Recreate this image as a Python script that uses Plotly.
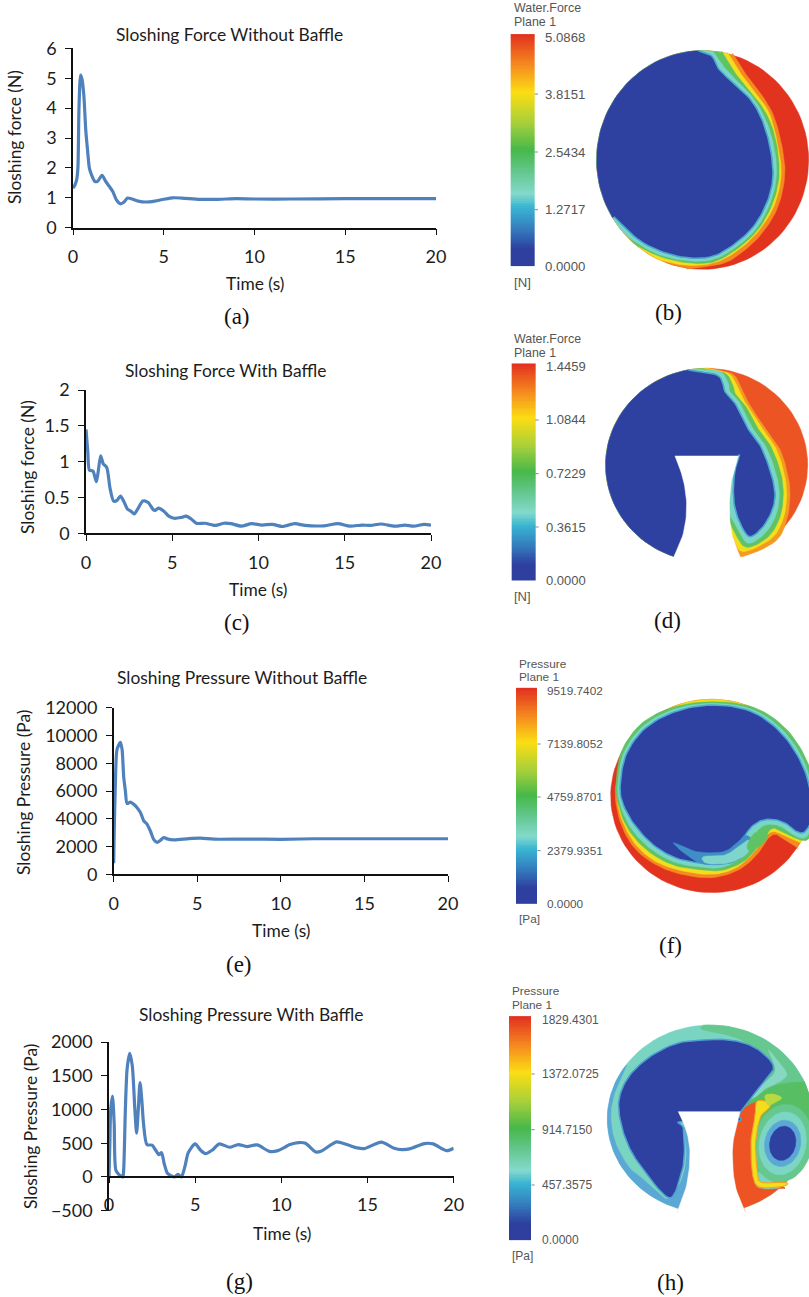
import math
import numpy as np
import plotly.graph_objects as go

W, H = 809, 1297

# ---------- line chart data ----------
t_a = [0,0.1,0.2,0.27,0.33,0.42,0.5,0.6,0.7,0.8,0.9,1.0,1.2,1.35,1.6,1.8,2.0,2.2,2.4,2.6,2.8,3.0,3.2,3.6,4.0,4.5,5,5.5,6,7,8,9,10,12,15,20]
force_a = [1.32,1.42,1.6,2.0,4.0,5.1,4.95,4.4,3.3,2.6,2.0,1.8,1.55,1.55,1.75,1.55,1.38,1.2,0.92,0.8,0.85,0.99,0.97,0.89,0.86,0.89,0.95,1.0,0.99,0.95,0.95,0.97,0.96,0.96,0.97,0.97]
t_c = [0,0.1,0.2,0.4,0.6,0.7,0.85,1.0,1.2,1.4,1.6,1.8,2.0,2.2,2.4,2.6,2.8,3.0,3.3,3.6,3.9,4.0,4.2,4.5,4.8,5.1,5.5,5.8,6.1,6.4,6.9,7.5,8,8.4,9,9.6,10.2,10.8,11.4,12.1,12.7,13.8,14.6,15.3,16,16.5,17.1,17.9,18.5,19,19.6,20]
force_c = [1.45,1.15,0.88,0.87,0.72,0.85,1.08,0.97,0.92,0.62,0.45,0.46,0.52,0.44,0.34,0.31,0.27,0.34,0.45,0.43,0.33,0.32,0.35,0.31,0.24,0.21,0.22,0.24,0.2,0.14,0.14,0.11,0.14,0.135,0.1,0.135,0.115,0.125,0.095,0.135,0.11,0.105,0.135,0.1,0.115,0.11,0.13,0.1,0.115,0.1,0.125,0.115]
t_e = [0,0.03,0.1,0.2,0.4,0.5,0.6,0.7,0.8,1.0,1.2,1.4,1.6,1.8,2.0,2.2,2.4,2.6,2.8,3.0,3.2,3.6,4.5,5.2,6,8,10,12,20]
pressure_e = [800,3000,6500,9000,9500,9000,7000,6000,5100,5200,5050,4800,4450,3850,3600,3100,2500,2300,2450,2650,2550,2480,2570,2600,2530,2540,2520,2560,2560]
t_g = [0,0.05,0.1,0.2,0.3,0.4,0.6,0.8,0.85,0.95,1.05,1.2,1.35,1.5,1.6,1.7,1.8,1.9,2.0,2.2,2.5,2.7,2.9,3.05,3.2,3.4,3.6,3.8,4.0,4.2,4.4,4.6,5.0,5.3,5.6,6,6.4,7,7.5,8,8.6,9.3,9.8,10.5,11,11.4,12,12.3,13.2,13.8,14.4,14.8,15.8,16.5,17,17.5,18.3,18.8,19.6,20]
pressure_g = [0,500,1000,1200,800,100,30,0,100,1000,1600,1830,1650,1000,650,1000,1400,1150,800,480,470,400,330,360,200,50,20,0,40,0,150,360,490,400,345,400,490,440,480,450,475,380,390,480,510,500,370,380,520,480,430,420,515,430,405,420,495,490,390,425]

titles = ["Sloshing Force Without Baffle", "Sloshing Force With Baffle", "Sloshing Pressure Without Baffle", "Sloshing Pressure With Baffle"]
ylabels = ["Sloshing force (N)", "Sloshing force (N)", "Sloshing Pressure (Pa)", "Sloshing Pressure (Pa)"]
x_ticks = [0, 5, 10, 15, 20]
y_ticks_a = [0, 1, 2, 3, 4, 5, 6]
y_ticks_c = [0, 0.5, 1, 1.5, 2]
y_ticks_c_text = ["0", "0.5", "1", "1.5", "2"]
y_ticks_e = [0, 2000, 4000, 6000, 8000, 10000, 12000]
y_ticks_g = [-500, 0, 500, 1000, 1500, 2000]

# ---------- contour panel outlines (panel coordinates, 3 units per pixel) ----------
RAMP = [[0,"#2E3F9F"],[0.07,"#2E3F9F"],[0.15,"#3478BC"],[0.25,"#38B4D2"],[0.31,"#84D9CC"],[0.41,"#62C68A"],[0.5,"#46B84A"],[0.62,"#A8D03A"],[0.75,"#FBDD13"],[0.87,"#F58A1F"],[1,"#E2321F"]]
BLUE, CYAN, GREEN, YELLOW, ORANGE, RED = "#2F41A0", "#79D5C6", "#5FC366", "#F3DE1E", "#F48A20", "#E2331F"

disc_b = (638, 480, 318, 328)
b_orange = [(728,160),(762,215),(812,280),(852,350),(878,450),(884,530),(864,620),(820,695),(765,750),(700,790),(590,807)]
b_yellow = [(712,156),(748,215),(798,280),(840,345),(866,450),(873,530),(852,618),(808,690),(748,748),(675,788),(590,796),(510,780)]
b_green = [(695,154),(736,220),(788,282),(828,340),(852,400),(865,470),(866,540),(846,615),(803,690),(742,746),(670,786),(590,788),(505,768),(440,735)]
b_cyan = [(668,153),(695,192),(730,232),(780,282),(817,338),(842,400),(857,470),(858,540),(838,615),(797,688),(736,743),(668,779),(590,782),(505,763),(430,722),(400,695)]
b_blue = [(625,152),(665,168),(685,205),(720,240),(770,285),(805,335),(830,400),(845,470),(848,540),(830,610),(790,680),(730,735),(665,770),(590,773),(510,753),(440,715),(372,650)]

disc_d = (650, 405, 303, 290)
d_orange = [(668,116),(728,132),(752,170),(768,205),(795,250),(830,300),(868,355),(890,420),(900,490),(890,570),(855,635),(755,680),(735,650),(700,600),(650,550),(552,680)]
d_yellow = [(655,116),(715,130),(740,165),(755,200),(780,240),(815,295),(855,350),(880,420),(890,490),(880,565),(845,625),(760,665),(730,625),(700,560),(650,550),(552,680)]
d_green = [(640,116),(705,130),(728,165),(735,190),(765,225),(800,290),(840,345),(870,420),(880,490),(870,560),(835,620),(770,652),(735,610),(700,540),(650,530),(552,680)]
d_cyan = [(620,117),(690,125),(715,160),(720,185),(750,220),(785,290),(825,345),(855,420),(868,490),(858,555),(825,610),(775,640),(745,600),(700,530),(650,530),(552,680)]
d_blue = [(595,120),(680,135),(700,165),(705,185),(735,220),(770,290),(810,345),(840,420),(855,490),(845,545),(815,595),(780,620),(755,590),(735,535),(730,480),(735,420),(745,378),(650,530),(552,680)]
d_baffle_left = [(555,378),(580,450),(590,530),(580,610),(552,680)]
d_baffle_right = [(745,378),(725,450),(718,530),(725,610),(750,680)]
d_baffle_foot = [(750,705),(552,705)]

disc_f = (665, 438, 303, 290)
f_orange = [(480,210),(418,285),(385,365),(376,440),(392,520),(430,590),(490,640),(570,672),(665,683),(745,660),(800,615),(830,570),(855,553),(885,570),(925,595)]
f_yellow = [(535,178),(440,250),(395,340),(382,440),(398,515),(438,585),(498,635),(575,662),(665,673),(735,655),(790,610),(820,565),(850,545),(890,560),(935,580)]
f_green = [(665,155),(790,172),(885,233),(950,330),(980,440),(980,520),(955,568),(925,568),(890,552),(850,535),(825,560),(800,595),(760,635),(700,660),(640,660),(550,645),(470,600),(410,530),(382,450),(379,390),(396,300),(455,220),(548,172)]
f_cyan = [(665,160),(785,178),(878,240),(942,335),(972,440),(975,505),(950,560),(920,560),(890,540),(860,525),(825,525),(800,545),(780,580),(750,625),(695,652),(640,652),(555,637),(480,595),(420,530),(387,450),(385,390),(403,305),(460,228),(552,178)]
f_blue = [(665,165),(780,183),(870,245),(935,340),(965,440),(968,500),(945,545),(920,545),(895,525),(860,510),(820,510),(785,530),(760,565),(735,610),(690,640),(640,640),(560,625),(490,585),(430,520),(395,450),(392,390),(410,310),(465,235),(555,185)]
f_tail = [(550,578),(620,605),(700,605),(745,575),(765,555),(790,575),(770,610),(720,640),(640,642),(590,615)]
f_tail_inner = [(640,620),(705,615),(750,585),(775,570),(785,590),(760,620),(710,640),(650,640)]
f_blob = [(772,585),(790,552),(815,545),(835,555),(815,585),(790,595),(778,605)]

disc_h = (660, 432, 308, 282)
h_band = [(410,270),(375,350),(362,420),(375,500),(415,575),(445,600),(490,640),(535,672),(575,615),(590,540),(585,455),(640,500),(620,650),(562,712)]
h_top = [(885,640),(760,500),(750,400),(780,300),(760,200),(640,165),(640,152)]
h_tongue = [(835,225),(870,265),(890,300),(860,325),(820,345),(770,400),(760,380),(830,320),(855,290),(850,260)]
h_green = [(885,640),(780,560),(755,410),(800,365),(860,330),(945,320)]
h_red = [(765,710),(735,630),(727,530),(735,470),(752,410),(800,380),(832,383),(800,420),(785,500),(790,600),(808,640),(885,640)]
h_yellow = [(800,380),(832,380),(840,395),(812,425),(797,500),(802,590),(815,622),(888,622),(880,634),(810,636),(788,600),(783,500),(795,425)]
h_spot = [(825,362),(850,357),(875,368),(860,380),(835,392)]
h_blue = [(752,410),(830,310),(850,285),(840,255),(790,215),(720,195),(640,195),(560,205),(480,245),(420,300),(390,360),(388,420),(410,500),(450,570),(535,668),(570,610),(583,540),(580,460),(575,440),(740,440)]
h_baffle_left = [(565,410),(590,470),(600,540),(590,630),(562,710)]
h_baffle_right = [(750,410),(735,470),(727,530),(735,630),(765,710)]
h_baffle_foot = [(765,738),(562,738)]
h_vortex = [(88,118,"#66C78F"),(70,95,"#7CD6C3"),(54,70,"#5BA8D6"),(39,52,BLUE)]
h_vortex_centre = (878, 505)

bar_labels_b = ["0.0000","1.2717","2.5434","3.8151","5.0868"]
bar_labels_d = ["0.0000","0.3615","0.7229","1.0844","1.4459"]
bar_labels_f = ["0.0000","2379.9351","4759.8701","7139.8052","9519.7402"]
bar_labels_h = ["0.0000","457.3575","914.7150","1372.0725","1829.4301"]

# ---------- figure ----------
fig = go.Figure()
def fx(px): return px / W
def fy(py): return 1 - py / H

annotations = []
def note(text, x, y, size, font="Lato", color="#1c1c1c", angle=0, anchor="center", xref="paper", yref="paper"):
    annotations.append(dict(text=text, x=x, y=y, xref=xref, yref=yref, showarrow=False,
                            xanchor=anchor, yanchor="middle", textangle=angle,
                            font=dict(size=size, family=font, color=color)))

charts = [
    dict(t=t_a, v=force_a, box=(73, 436, 48.3, 227.7), rng=[0, 6], ticks=y_ticks_a, text=None,
         title=(229, 34), ylab=(14, 137), xlab=(255, 283)),
    dict(t=t_c, v=force_c, box=(86, 431, 390, 533.3), rng=[0, 2], ticks=y_ticks_c, text=y_ticks_c_text,
         title=(226, 371), ylab=(27, 467), xlab=(258, 589)),
    dict(t=t_e, v=pressure_e, box=(113.7, 448, 707.7, 874.3), rng=[0, 12000], ticks=y_ticks_e, text=None,
         title=(242, 677), ylab=(23, 793), xlab=(281, 930)),
    dict(t=t_g, v=pressure_g, box=(109, 453.7, 1042, 1210.7), rng=[-500, 2000], ticks=y_ticks_g, text=None,
         title=(251, 1014), ylab=(30, 1127), xlab=(282, 1233)),
]
axes = {}
for i, c in enumerate(charts):
    n = i + 1
    x0, x1, y0, y1 = c["box"]
    fig.add_trace(go.Scatter(x=c["t"], y=c["v"], xaxis=f"x{n}", yaxis=f"y{n}", mode="lines",
                             line=dict(color="#4F81BD", width=3.2, shape="spline", smoothing=0.7),
                             showlegend=False, hoverinfo="skip", cliponaxis=False))
    xa = dict(domain=[fx(x0), fx(x1)], range=[0, 20], tickvals=x_ticks, ticks="outside", ticklen=6, tickwidth=1.3,
              tickcolor="#111", showline=True, linecolor="#111", linewidth=1.5, showgrid=False, zeroline=False,
              automargin=False, tickfont=dict(family="Lato", size=18, color="#1c1c1c"), ticklabelstandoff=6, anchor=f"y{n}")
    if n == 4:
        xa.update(anchor="free", position=fy(1176.7))
    ya = dict(domain=[fy(y1), fy(y0)], range=c["rng"], tickvals=c["ticks"], ticks="outside", ticklen=6, tickwidth=1.3,
              tickcolor="#111", showline=True, linecolor="#111", linewidth=1.5, showgrid=False, zeroline=False,
              automargin=False, tickformat="d", tickfont=dict(family="Lato", size=18, color="#1c1c1c"), ticklabelstandoff=5, anchor=f"x{n}")
    if c["text"]:
        ya["ticktext"] = c["text"]
        ya.pop("tickformat")
    axes[f"xaxis{n}"] = xa
    axes[f"yaxis{n}"] = ya
    note(titles[i], fx(c["title"][0]), fy(c["title"][1]), 17.4)
    note(ylabels[i], fx(c["ylab"][0]), fy(c["ylab"][1]), 17.4, angle=-90)
    note("Time (s)", fx(c["xlab"][0]), fy(c["xlab"][1]), 17.4)

captions = [("(a)",237,316),("(b)",668,312),("(c)",237,623),("(d)",667,620),("(e)",239,964),("(f)",670,945),("(g)",239,1281),("(h)",670,1282)]
for text, x, y in captions:
    note(text, fx(x), fy(y), 23, font="Liberation Serif", color="#111")

def angle_of(p, d):
    return math.atan2((p[1]-d[1])/d[3], (p[0]-d[0])/d[2])

def arc(d, p0, p1, cw):
    a0, a1 = angle_of(p0, d), angle_of(p1, d)
    if cw and a1 < a0: a1 += 2*math.pi
    if not cw and a1 > a0: a1 -= 2*math.pi
    a = np.linspace(a0, a1, 50)
    return [(d[0]+d[2]*math.cos(v), d[1]+d[3]*math.sin(v)) for v in a]

def ellipse(c, a, b, tilt=0.2):
    ang = np.linspace(0, 2*math.pi, 60)
    return [(c[0]+a*math.cos(v)*math.cos(tilt)-b*math.sin(v)*math.sin(tilt),
             c[1]+a*math.cos(v)*math.sin(tilt)+b*math.sin(v)*math.cos(tilt)) for v in ang]

def rounded(pts, closed=False, sub=8):
    m = len(pts)
    out = []
    rng = range(m) if closed else range(m - 1)
    for i in rng:
        if closed:
            p0, p1, p2, p3 = pts[(i-1) % m], pts[i], pts[(i+1) % m], pts[(i+2) % m]
        else:
            p0, p1, p2, p3 = pts[max(i-1, 0)], pts[i], pts[i+1], pts[min(i+2, m-1)]
        for k in range(sub):
            s = k / sub
            out.append(tuple(0.5*((2*p1[j]) + (p2[j]-p0[j])*s + (2*p0[j]-5*p1[j]+4*p2[j]-p3[j])*s*s
                                  + (3*p1[j]-p0[j]-3*p2[j]+p3[j])*s*s*s) for j in (0, 1)))
    if not closed:
        out.append(pts[-1])
    return out

def poly(n, pts, color, edge=None, width=1.5):
    pts = list(pts) + [pts[0]]
    fig.add_trace(go.Scatter(x=[p[0] for p in pts], y=[p[1] for p in pts], xaxis=f"x{n}", yaxis=f"y{n}",
                             mode="lines", fill="toself", fillcolor=color,
                             line=dict(color=edge or color, width=width if edge else 0.5),
                             showlegend=False, hoverinfo="skip"))

def blob(n, pts, color, edge=None, width=1.5):
    poly(n, rounded(pts, closed=True), color, edge, width)

def region(n, curve, d, color, cw, edge=None):
    smooth = rounded(curve)
    poly(n, smooth + arc(d, curve[-1], curve[0], cw), color)
    if edge:
        fig.add_trace(go.Scatter(x=[p[0] for p in smooth], y=[p[1] for p in smooth], xaxis=f"x{n}", yaxis=f"y{n}",
                                 mode="lines", line=dict(color=edge, width=1.5),
                                 showlegend=False, hoverinfo="skip"))

def full_disc(n, d, color):
    poly(n, [(d[0]+d[2]*math.cos(v), d[1]+d[3]*math.sin(v)) for v in np.linspace(0, 2*math.pi, 100)[:-1]], color)

def baffle(n, left, right, foot):
    poly(n, rounded(right) + list(foot) + rounded(left)[::-1], "#FFFFFF")

panels = [
    dict(n=5, org=(490, 0), size=(319, 330), bar=(62,134,105,797), title=(65,25,67), unit=("[N]",65,848), lx=160,
         ly=[800,629,456,282,113], labels=bar_labels_b, head="Water.Force", fs=13.2, hs=12.4),
    dict(n=6, org=(490, 330), size=(319, 310), bar=(65,136,103,750), title=(67,27,68), unit=("[N]",67,798), lx=162,
         ly=[752,591,431,270,109], labels=bar_labels_d, head="Water.Force", fs=13, hs=12.4),
    dict(n=7, org=(490, 650), size=(319, 310), bar=(78,142,116,758), title=(80,41,81), unit=("[Pa]",80,807), lx=165,
         ly=[762,602,441,282,122], labels=bar_labels_f, head="Pressure", fs=11.8, hs=11.8),
    dict(n=8, org=(490, 975), size=(319, 320), bar=(57,124,126,792), title=(60,49,90), unit=("[Pa]",60,843), lx=150,
         ly=[796,630,464,297,134], labels=bar_labels_h, head="Pressure", fs=12, hs=11.8),
]
ramp_levels = [i/127 for i in range(128)]
for p in panels:
    n = p["n"]
    ox, oy = p["org"]; sw, sh = p["size"]
    axes[f"xaxis{n}"] = dict(domain=[fx(ox), fx(ox+sw)], range=[0, sw*3], visible=False, fixedrange=True, anchor=f"y{n}", automargin=False)
    axes[f"yaxis{n}"] = dict(domain=[fy(oy+sh), fy(oy)], range=[sh*3, 0], visible=False, fixedrange=True, anchor=f"x{n}", automargin=False)
    bx0, bx1, by0, by1 = p["bar"]
    fig.add_trace(go.Heatmap(x=[bx0, bx1], y=[by1 - (by1-by0)*v for v in ramp_levels],
                             z=[[v] for v in ramp_levels], colorscale=RAMP, showscale=False, zmin=0, zmax=1,
                             xaxis=f"x{n}", yaxis=f"y{n}", hoverinfo="skip"))
    X, Y = f"x{n}", f"y{n}"
    for ly, lab in zip(p["ly"], p["labels"]):
        note(lab, p["lx"], ly, p["fs"], font="Liberation Sans", color="#555", anchor="left", xref=X, yref=Y)
    for ly in p["ly"][1:4]:
        fig.add_trace(go.Scatter(x=[bx1, bx1+10], y=[ly, ly], xaxis=X, yaxis=Y, mode="lines",
                                 line=dict(color="#888", width=1), showlegend=False, hoverinfo="skip"))
    note(p["head"], p["title"][0], p["title"][1], p["hs"], font="Liberation Sans", color="#555", anchor="left", xref=X, yref=Y)
    note("Plane 1", p["title"][0], p["title"][2], p["hs"], font="Liberation Sans", color="#555", anchor="left", xref=X, yref=Y)
    note(p["unit"][0], p["unit"][1], p["unit"][2], p["fs"], font="Liberation Sans", color="#555", anchor="left", xref=X, yref=Y)

# panel b
full_disc(5, disc_b, RED)
region(5, b_orange, disc_b, ORANGE, True)
region(5, b_yellow, disc_b, YELLOW, True)
region(5, b_green, disc_b, GREEN, True)
region(5, b_cyan, disc_b, CYAN, True)
region(5, b_blue, disc_b, BLUE, True, edge="#4BA6D0")

# panel d
full_disc(6, disc_d, "#EC5424")
region(6, d_orange, disc_d, "#F59A20", True)
region(6, d_yellow, disc_d, YELLOW, True)
region(6, d_green, disc_d, GREEN, True)
region(6, d_cyan, disc_d, CYAN, True)
region(6, d_blue, disc_d, BLUE, True, edge="#4BA6D0")
baffle(6, d_baffle_left, d_baffle_right, d_baffle_foot)

# panel f
full_disc(7, disc_f, RED)
region(7, f_orange, disc_f, ORANGE, False)
region(7, f_yellow, disc_f, YELLOW, False)
blob(7, f_green, GREEN)
blob(7, f_cyan, CYAN)
blob(7, f_blue, BLUE, edge="#4BA6D0")
blob(7, f_tail, "#3F8FC6")
blob(7, f_tail_inner, "#7FD5CB")
blob(7, f_blob, GREEN)

# panel h
full_disc(8, disc_h, "#79D4C2")
region(8, h_band, disc_h, "#5BA7D6", True)
region(8, h_top, disc_h, "#66C78F", True)
blob(8, h_tongue, "#86D8C5")
region(8, h_green, disc_h, "#57BE63", True)
poly(8, ellipse(h_vortex_centre, h_vortex[0][0], h_vortex[0][1]), h_vortex[0][2])
region(8, h_red, disc_h, "#EE5423", True)
blob(8, h_yellow, YELLOW, edge="#F7A11E", width=1)
blob(8, h_spot, "#B8D93F")
for a, b, col in h_vortex[1:]:
    poly(8, ellipse(h_vortex_centre, a, b), col)
blob(8, h_blue, BLUE, edge="#4F9FD2")
baffle(8, h_baffle_left, h_baffle_right, h_baffle_foot)

fig.update_layout(width=W, height=H, autosize=False, margin=dict(l=0, r=0, t=0, b=0),
                  paper_bgcolor="white", plot_bgcolor="rgba(0,0,0,0)", showlegend=False,
                  hovermode=False, annotations=annotations, **axes)
fig.write_html("out.html", config={"displayModeBar": False}, post_script="document.body.style.margin='0';")
